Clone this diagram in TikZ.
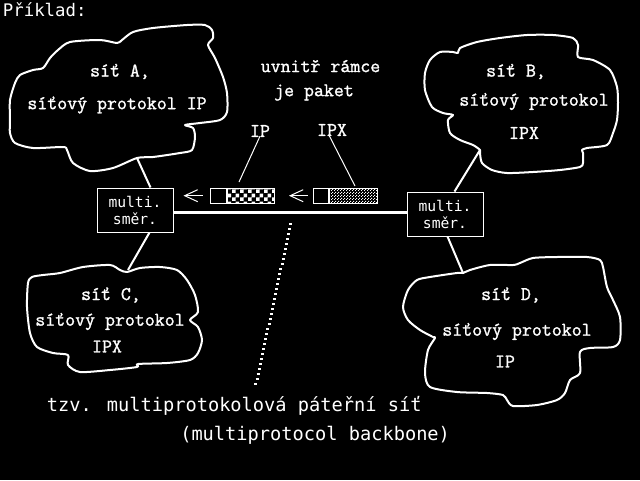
\documentclass[tikz,border=0pt]{standalone}
\usepackage{fontspec}
\newfontfamily\pix{DejaVu Sans Mono}
\newfontfamily\tw[FakeBold=1.3]{Latin Modern Mono}
\usetikzlibrary{patterns,arrows.meta,calc}
\pgfdeclarepatternformonly{pkchecker}{\pgfpointorigin}{\pgfpoint{6pt}{6pt}}{\pgfpoint{6pt}{6pt}}{%
 \pgfpathrectangle{\pgfpointorigin}{\pgfpoint{3pt}{3pt}}%
 \pgfpathrectangle{\pgfpoint{3pt}{3pt}}{\pgfpoint{3pt}{3pt}}%
 \pgfusepath{fill}}
\pgfdeclarepatternformonly{pkdots}{\pgfpointorigin}{\pgfpoint{2pt}{2pt}}{\pgfpoint{2pt}{2pt}}{%
 \pgfpathrectangle{\pgfpointorigin}{\pgfpoint{0.75pt}{0.75pt}}%
 \pgfpathrectangle{\pgfpoint{1pt}{1pt}}{\pgfpoint{0.75pt}{0.75pt}}%
 \pgfusepath{fill}}
\tikzset{
 cloudline/.style={draw=white, line width=1.5pt, line join=round},
 ttxt/.style={text=white, font=\tw\fontsize{14.5pt}{17pt}\selectfont, inner sep=0pt},
 ptxt/.style={text=white, font=\pix\fontsize{14pt}{17pt}\selectfont, inner sep=0pt},
 mbox/.style={draw=white, line width=0.75pt, text=white, font=\pix\fontsize{11pt}{12.75pt}\selectfont, align=center, minimum width=57pt, minimum height=33pt, inner sep=0pt},
 link/.style={draw=white, line width=1.5pt},
 tickline/.style={draw=white, line width=0.75pt},
 pkbox/.style={draw=white, line width=0.75pt, minimum height=11.25pt, inner sep=0pt},
 arr/.style={draw=white, line width=0.75pt, -{Straight Barb[length=9.75pt,width=9pt]}},
}
\begin{document}
\begin{tikzpicture}[x=0.75pt,y=-0.75pt]
\fill[black] (0,0) rectangle (640,480);
\useasboundingbox (0,0) rectangle (640,480);

% title
\node[ptxt, font=\pix\fontsize{13pt}{15pt}\selectfont, anchor=base west] (title) at (2.7,16.7) {Příklad:};

% cloud A
\draw[cloudline] plot[smooth cycle, tension=0.45] coordinates {
(43,68) (50,58) (58,50) (70,42) (100,40) (117,43) (122,40) (133,32) (153,28) (187,25) (205,25) (212,30) (213,38) (208,45) (215,58) (223,77) (227,93) (227,112) (220,120) (200,123) (185,125) (193,128) (195,137) (192,150) (180,153) (153,157) (137,158) (113,168) (90,171) (73,163) (67,150) (63,147) (33,148) (15,143) (10,133) (10,120) (10,100) (15,83) (20,75) (33,70)};
% cloud B
\draw[cloudline] plot[smooth cycle, tension=0.45] coordinates {
(458,53) (460,48) (477,42) (500,38) (527,35) (553,35) (573,38) (578,45) (578,57) (593,60) (610,70) (617,87) (618,103) (617,120) (613,133) (607,145) (587,148) (582,150) (583,153) (583,163) (580,167) (560,170) (533,172) (507,173) (492,170) (482,163) (480,153) (480,150) (473,145) (460,140) (450,133) (448,120) (453,115) (443,113) (432,107) (425,90) (425,73) (430,60) (440,52) (453,52)};
% cloud C
\draw[cloudline] plot[smooth cycle, tension=0.45] coordinates {
(127,272) (140,268) (160,267) (177,270) (187,280) (195,295) (198,312) (190,320) (198,327) (202,340) (198,353) (190,360) (167,363) (138,364) (137,367) (110,370) (80,372) (68,365) (68,355) (53,353) (37,347) (30,333) (27,307) (28,283) (32,277) (43,275) (60,273) (83,267) (110,265) (120,270)};
% cloud D
\draw[cloudline] plot[smooth cycle, tension=0.45] coordinates {
(463,273) (470,270) (490,265) (513,265) (520,263) (533,258) (557,257) (587,257) (600,260) (603,267) (607,287) (613,300) (620,317) (620,340) (613,347) (590,348) (580,352) (580,373) (570,380) (565,393) (557,400) (537,405) (513,406) (507,400) (503,395) (487,393) (457,392) (430,387) (425,373) (428,350) (435,338) (433,337) (420,330) (408,320) (403,307) (408,290) (417,280) (430,277) (457,273)};

% cloud texts
\node[ttxt] (a1) at (120,71.5) {síť A,};
\node[ttxt] (a2) at (117,105) {síťový protokol IP};
\node[ttxt] (b1) at (516,71.5) {síť B,};
\node[ttxt] (b2) at (534,101.5) {síťový protokol};
\node[ttxt] (b3) at (524,133) {IPX};
\node[ttxt] (c1) at (111,295) {síť C,};
\node[ttxt] (c2) at (110,321.5) {síťový protokol};
\node[ttxt] (c3) at (107,346.5) {IPX};
\node[ttxt] (d1) at (511,295) {síť D,};
\node[ttxt] (d2) at (517,331.5) {síťový protokol};
\node[ttxt] (d3) at (505,361.5) {IP};

% middle texts
\node[ttxt] (u1) at (320.5,66) {uvnitř rámce};
\node[ttxt] (u2) at (314,92.5) {je paket};
\node[ttxt] (lip) at (260,131) {IP};
\node[ttxt] (lipx) at (332,130) {IPX};

% multi boxes
\node[mbox] (m1) at (135,210) {multi.\\směr.};
\node[mbox] (m2) at (445,214) {multi.\\směr.};

% backbone
\coordinate (bb) at (0,212);
\draw[white, line width=2.25pt] (m1.east |- bb) -- (m2.west |- bb);

% junctions with clouds
\coordinate (ja) at (137,158);
\coordinate (jb) at (480,150);
\coordinate (jc) at (128,270);
\coordinate (jd) at (463,273);
\draw[link] (ja) -- ($(m1.north west)+(54,0)$);
\draw[link] ($(m1.south west)+(53,0)$) -- (jc);
\draw[link] (jb) -- ($(m2.north west)+(48,0)$);
\draw[link] ($(m2.south west)+(41,0)$) -- (jd);

% packets
\node[pkbox, minimum width=12.5pt] (p1h) at (218.5,195.7) {};
\node[pkbox, minimum width=35pt, pattern=pkchecker, pattern color=white, anchor=west] (p1d) at (p1h.east) {};
\node[pkbox, minimum width=11.25pt] (p2h) at (320.8,195.7) {};
\node[pkbox, minimum width=36.5pt, pattern=pkdots, pattern color=white, anchor=west] (p2d) at (p2h.east) {};

% arrows
\draw[arr, shorten <=5.25pt, shorten >=7.5pt] (p1h.west) -- (m1.east |- p1h.west);
\draw[arr, shorten <=3.75pt, shorten >=10.5pt] (p2h.west) -- (p1d.east);

% label ticks
\coordinate (ipend) at (239,182);
\coordinate (ipxend) at (355,186);
\draw[tickline] (lip.south) ++(0,-1) -- (ipend);
\draw[tickline] (lipx.south) ++(-3,-1) -- (ipxend);

% dotted line
\foreach \i in {0,...,32}{
  \pgfmathsetmacro\yy{224+5*\i}
  \pgfmathsetmacro\xx{290.7-1.0845*\i}
  \draw[white, line width=0.9pt] (\xx-1.5,\yy) -- (\xx+1.5,\yy);
}

% bottom texts
\node[ptxt, anchor=base west] (t1) at (46.7,411.7) {tzv. multiprotokolová páteřní síť};
\node[ptxt, anchor=base west] (t2) at (180,440) {(multiprotocol backbone)};
\end{tikzpicture}
\end{document}
